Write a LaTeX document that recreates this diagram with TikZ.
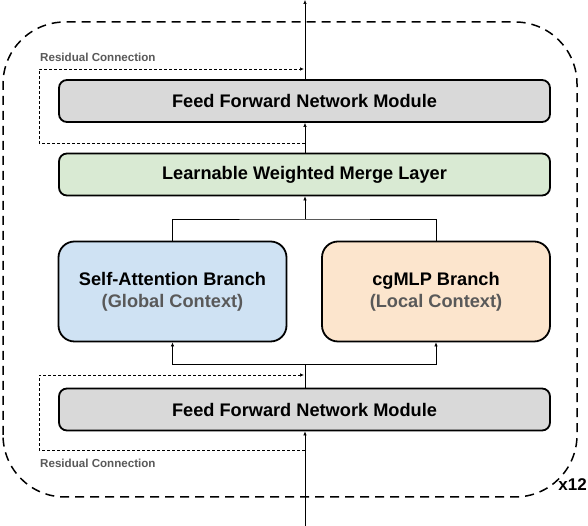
\documentclass[tikz,border=0pt]{standalone}
\usepackage{fontspec}
\setmainfont{Liberation Sans}
\usepackage{tikz}
\usetikzlibrary{arrows.meta}
\definecolor{ffngray}{HTML}{D9D9D9}
\definecolor{mergegreen}{HTML}{D9EAD3}
\definecolor{attnblue}{HTML}{CFE2F3}
\definecolor{mlporange}{HTML}{FCE5CD}
\definecolor{subgray}{HTML}{595959}
\pgfmathsetmacro{\wide}{491}
\pgfmathsetmacro{\half}{228}

\begin{document}
\begin{tikzpicture}[x=1pt, y=1pt,
		layer/.style={draw, line width=1.8pt, rounded corners=8pt, minimum width=\wide pt, minimum height=42pt, inner sep=0pt, font=\fontsize{18.2}{22}\selectfont\bfseries},
		branch/.style={draw, line width=1.8pt, rounded corners=16pt, minimum width=\half pt, minimum height=100pt, inner sep=0pt, align=center, font=\fontsize{18.2}{22}\selectfont\bfseries},
		flow/.style={line width=0.6pt, arrows={-Latex[length=4pt, width=3.5pt]}},
		res/.style={line width=0.7pt, dash pattern=on 3pt off 2pt, arrows={-Latex[length=4pt, width=3.5pt]}},
		note/.style={anchor=west, text=subgray, inner sep=0pt, font=\fontsize{11.6}{13}\selectfont\bfseries}]
		\useasboundingbox (0, 0) rectangle (588, 526);
		\draw[line width=1.5pt, dash pattern=on 9pt off 6pt, rounded corners=62pt] (3, 29) rectangle (577, 504);
		\node[anchor=east, inner sep=0pt, font=\fontsize{17}{19}\selectfont\bfseries] (rep) at (587, 41) {x12};
		\node[layer, fill=ffngray] (ffnT) at (304.5, 425) {Feed Forward Network Module};
		\node[layer, fill=mergegreen] (merge) at (304.5, 351.5) {Learnable Weighted Merge Layer};
		\node[branch, fill=attnblue] (attn) at (172.5, 234.5) {Self-Attention Branch\\{\color{subgray}(Global Context)}};
		\node[branch, fill=mlporange] (mlp) at (436, 234.5) {cgMLP Branch\\{\color{subgray}(Local Context)}};
		\node[layer, fill=ffngray] (ffnB) at (304.5, 116.5) {Feed Forward Network Module};
		\coordinate (inlet) at (305, 0);
		\coordinate (outlet) at (305, 526);
		\coordinate (splitlo) at (305, 162);
		\coordinate (splithi) at (305, 307);
		\draw[flow] (inlet) -- (ffnB.south -| inlet);
		\draw[line width=0.6pt] (ffnB.north -| inlet) -- (splitlo);
		\draw[flow] (splitlo) -| (attn.south);
		\draw[flow] (splitlo) -| (mlp.south);
		\draw[line width=0.6pt] (attn.north) |- (splithi) -| (mlp.north);
		\draw[flow] (splithi) -- (merge.south -| inlet);
		\draw[flow] (merge.north -| inlet) -- (ffnT.south -| inlet);
		\draw[flow] (ffnT.north -| inlet) -- (outlet);
		\coordinate (tapT) at (305, 383);
		\coordinate (joinT) at (304, 457);
		\coordinate (tapB) at (305, 76);
		\coordinate (joinB) at (304, 151);
		\draw[res] (tapT) -- (39, 383) |- (joinT);
		\draw[res] (tapB) -- (39, 76) |- (joinB);
		\node[note] (resT) at (40, 469) {Residual Connection};
		\node[note] (resB) at (40, 63) {Residual Connection};
	\end{tikzpicture}
\end{document}
